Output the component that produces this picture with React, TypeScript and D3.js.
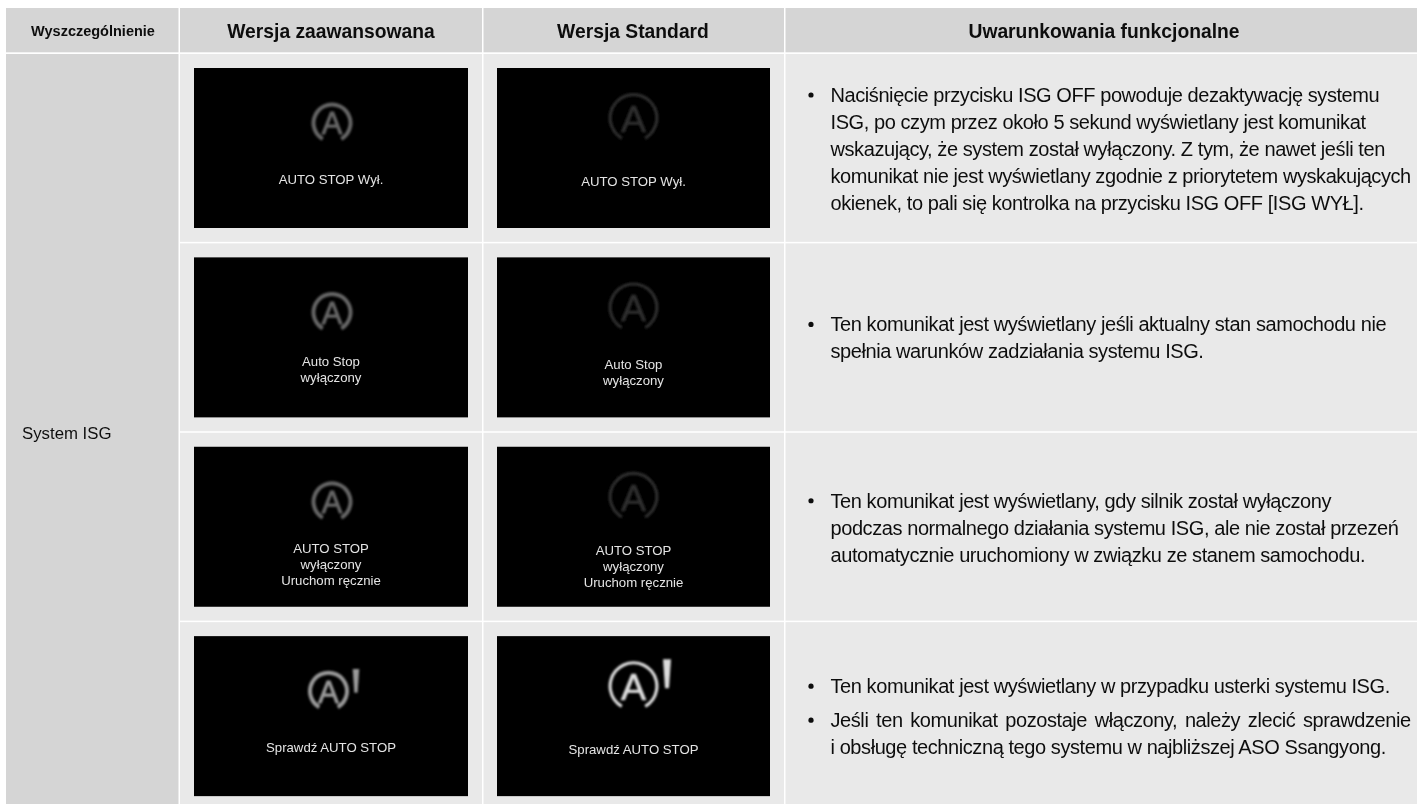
import React from "react";
import * as d3 from "d3";

const W = 1417, H = 804;
const headers = ["Wyszczególnienie", "Wersja zaawansowana", "Wersja Standard", "Uwarunkowania funkcjonalne"];
const rowKeys = ["off", "unmet", "manual", "fault"];
const rowLabel = "System ISG";
const screenAdvanced = [["AUTO STOP Wył."], ["Auto Stop", "wyłączony"], ["AUTO STOP", "wyłączony", "Uruchom ręcznie"], ["Sprawdź AUTO STOP"]];
const screenStandard = screenAdvanced;
const iconAdvanced = ["#666666", "#666666", "#666666", "#9a9a9a"];
const iconStandard = ["#2e2e2e", "#2e2e2e", "#2e2e2e", "#dcdcdc"];
const notes: string[][][] = [
  [["Naciśnięcie przycisku ISG OFF powoduje dezaktywację systemu", "ISG, po czym przez około 5 sekund wyświetlany jest komunikat", "wskazujący, że system został wyłączony. Z tym, że nawet jeśli ten", "komunikat nie jest wyświetlany zgodnie z priorytetem wyskakujących", "okienek, to pali się kontrolka na przycisku ISG OFF [ISG WYŁ]."]],
  [["Ten komunikat jest wyświetlany jeśli aktualny stan samochodu nie", "spełnia warunków zadziałania systemu ISG."]],
  [["Ten komunikat jest wyświetlany, gdy silnik został wyłączony", "podczas normalnego działania systemu ISG, ale nie został przezeń", "automatycznie uruchomiony w związku ze stanem samochodu."]],
  [["Ten komunikat jest wyświetlany w przypadku usterki systemu ISG."], ["Jeśli ten komunikat pozostaje włączony, należy zlecić sprawdzenie", "i obsługę techniczną tego systemu w najbliższej ASO Ssangyong."]],
];
const justifiedLine = "Jeśli ten komunikat pozostaje włączony, należy zlecić sprawdzenie";
const firstBaseline = [48, 88, 75, 71];

const font = "'Liberation Sans', Arial, sans-serif";
const y = d3.scaleBand<string>().domain(rowKeys).range([54, 810]).paddingInner(0.008).paddingOuter(0);
const colX0 = d3.scaleOrdinal<number, number>().domain([0, 1, 2, 3]).range([6, 180, 483.5, 785.5]);
const colX1 = d3.scaleOrdinal<number, number>().domain([0, 1, 2, 3]).range([178.5, 482, 784, 1417]);
const headerX = d3.scaleOrdinal<number, number>().domain([0, 1, 2, 3]).range([93, 331, 633, 1104]);
const ring = d3.arc();

function Icon({ cx, cy, r, w, color, bang }: { cx: number; cy: number; r: number; w: number; color: string; bang: boolean }) {
  const a = (150 * Math.PI) / 180;
  const d = ring({ innerRadius: r - w, outerRadius: r, startAngle: -a, endAngle: a } as any) as string;
  const top = cy - r * 1.08, bot = cy + r * 0.08;
  return (
    <g filter="url(#soft)">
      <path d={d} transform={`translate(${cx},${cy})`} fill={color} />
      <text x={cx} y={cy + r * 0.56} textAnchor="middle" fontFamily={font} fontSize={r * 1.5} stroke={color} strokeWidth={w * 0.22} fill={color}>A</text>
      {bang && <path d={`M${cx + r * 1.18},${top} L${cx + r * 1.5},${top} L${cx + r * 1.42},${bot} L${cx + r * 1.26},${bot} Z`} fill={color} />}
    </g>
  );
}

function Screen({ col, row, lines, color, r, w, dx, dyIcon, dyText }: any) {
  const x0 = col === 1 ? 194 : 497;
  const top = (y(row) as number) + 14;
  const xm = col === 1 ? 331 : 633.5;
  const i = rowKeys.indexOf(row);
  const start = lines.length === 1 ? 115.5 : lines.length === 2 ? 109 : 106;
  return (
    <g>
      <rect x={x0} y={top} width={col === 1 ? 274 : 273} height={160} fill="#000" />
      <Icon cx={xm + dx} cy={top + dyIcon} r={r} w={w} color={color} bang={i === 3} />
      <g filter="url(#tiny)">
        {lines.map((t: string, k: number) => (
          <text key={k} x={xm} y={top + start + dyText + k * 16} textAnchor="middle" fontFamily={font} fontSize={13.2} fill="#e4e4e4">{t}</text>
        ))}
      </g>
    </g>
  );
}

export default function App() {
  return (
    <svg width={W} height={H} style={{ position: "absolute", left: 0, top: 0, background: "#fff" }}>
      <defs>
        <filter id="soft" x="-20%" y="-20%" width="140%" height="140%"><feGaussianBlur stdDeviation="1" /></filter>
        <filter id="tiny" x="-5%" y="-20%" width="110%" height="140%"><feGaussianBlur stdDeviation="0.3" /></filter>
      </defs>
      {headers.map((h, c) => (
        <g key={h}>
          <rect x={colX0(c)} y={8} width={colX1(c) - colX0(c)} height={44.3} fill="#d5d5d5" />
          <text x={headerX(c)} y={c === 0 ? 35.5 : 38} textAnchor="middle" fontFamily={font} fontWeight={700} fontSize={c === 0 ? 14.5 : 19.3} fill="#111" filter="url(#tiny)">{h}</text>
        </g>
      ))}
      <rect x={colX0(0)} y={54} width={colX1(0) - colX0(0)} height={H - 54} fill="#d5d5d5" />
      <text x={22} y={439} fontFamily={font} fontSize={16.8} fill="#111" filter="url(#tiny)">{rowLabel}</text>
      {rowKeys.map((key, i) => {
        const top = y(key) as number;
        let ly = top + firstBaseline[i];
        return (
          <g key={key}>
            {[1, 2, 3].map((c) => (
              <rect key={c} x={colX0(c)} y={top} width={colX1(c) - colX0(c)} height={y.bandwidth()} fill="#e9e9e9" />
            ))}
            <Screen col={1} row={key} lines={screenAdvanced[i]} color={iconAdvanced[i]} r={20.5} w={4} dx={i === 3 ? -2.5 : 1} dyIcon={55} dyText={0} />
            <Screen col={2} row={key} lines={screenStandard[i]} color={iconStandard[i]} r={25} w={3.2} dx={0} dyIcon={50} dyText={2.5} />
            {notes[i].map((lines, p) => (
              <g key={p}>
                {lines.map((t, k) => {
                  if (p > 0 && k === 0) ly += 34;
                  else if (k > 0) ly += 26.9;
                  return (
                    <g key={k} filter="url(#tiny)">
                      {k === 0 && <circle cx={811} cy={ly - 7} r={2.6} fill="#111" />}
                      <text x={830.5} y={ly} fontFamily={font} fontSize={20} letterSpacing={-0.42} wordSpacing={t === justifiedLine ? 2.5 : 0} fill="#111">{t}</text>
                    </g>
                  );
                })}
              </g>
            ))}
          </g>
        );
      })}
    </svg>
  );
}
